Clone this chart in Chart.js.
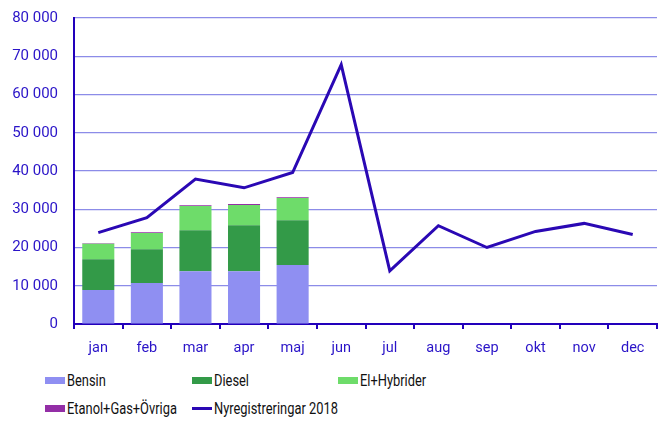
<!DOCTYPE html>
<html>
<head>
<meta charset="utf-8">
<script src="https://cdn.jsdelivr.net/npm/chart.js@4.4.0/dist/chart.umd.min.js"></script>
<style>
  body { margin: 0; background: #fff; font-family: Roboto, sans-serif; }
  #wrap { position: relative; width: 672px; height: 429px; overflow: hidden; }
  #fuelChart { position: absolute; left: 0; top: -7px; }
  .item { position: absolute; display: flex; align-items: center; height: 22px; margin-top: -11px; font-size: 16.5px; color: #111; }
  .box { width: 20px; height: 7px; margin-right: 2px; }
  .txt { display: inline-block; transform: scaleX(0.78); transform-origin: left center; white-space: nowrap; }
</style>
</head>
<body>
<div id="wrap">
  <canvas id="fuelChart" width="672" height="367"></canvas>
  <div id="legend"></div>
</div>
<script>
const months = ['jan', 'feb', 'mar', 'apr', 'maj', 'jun', 'jul', 'aug', 'sep', 'okt', 'nov', 'dec'];

// 2019, per bränsle
const bensin = [8900, 10700, 13800, 13800, 15400];
const diesel = [8050, 8850, 10700, 12000, 11700];
const elHybrid = [4000, 4250, 6350, 5300, 5850];
const etanolGas = [150, 200, 200, 250, 200];

const nyreg2018 = [23900, 27800, 37900, 35600, 39600, 67800, 13900, 25700, 20000, 24200, 26300, 23400];

const textBlue = '#2a14c8';
const axisBlue = '#2200bb';
const gridBlue = '#8c8ce8';

function fmt(v) {
    return String(v).replace(/\B(?=(\d{3})+(?!\d))/g, ' ');
}

const ctx = document.getElementById('fuelChart');

const chart = new Chart(ctx, {
    type: 'bar',
    data: {
        labels: months,
        datasets: [
            {
                type: 'line',
                label: 'Nyregistreringar 2018',
                data: nyreg2018,
                borderColor: '#2a08b4',
                backgroundColor: '#2a08b4',
                borderWidth: 3,
                pointRadius: 0,
                tension: 0,
                fill: false,
                stack: 'total',
                order: 0
            },
            { label: 'Bensin', data: bensin, backgroundColor: '#8f8ff2', stack: 'fuel', order: 1 },
            { label: 'Diesel', data: diesel, backgroundColor: '#339a48', stack: 'fuel', order: 1 },
            { label: 'El+Hybrider', data: elHybrid, backgroundColor: '#6edc6a', stack: 'fuel', order: 1 },
            { label: 'Etanol+Gas+Övriga', data: etanolGas, backgroundColor: '#932ea6', stack: 'fuel', order: 1 }
        ]
    },
    options: {
        responsive: false,
        animation: false,
        barPercentage: 0.66,
        categoryPercentage: 1,
        layout: { padding: { left: 0, right: 15, top: 10, bottom: 0 } },
        plugins: {
            legend: { display: false },
            tooltip: { enabled: false }
        },
        scales: {
            x: {
                stacked: true,
                grid: {
                    drawOnChartArea: false,
                    drawTicks: true,
                    tickLength: 5,
                    color: axisBlue,
                    lineWidth: 2
                },
                border: { color: axisBlue, width: 2 },
                ticks: {
                    color: textBlue,
                    padding: 11,
                    font: { family: 'Roboto', size: 14.5 }
                },
                afterFit: s => { s.height = 36; }
            },
            y: {
                stacked: true,
                min: 0,
                max: 80000,
                grid: { color: gridBlue, lineWidth: 1.2, drawTicks: false },
                border: { color: axisBlue, width: 2 },
                ticks: {
                    stepSize: 10000,
                    color: textBlue,
                    padding: 16,
                    font: { family: 'Roboto', size: 15 },
                    callback: v => fmt(v)
                },
                afterFit: s => { s.width = 74; }
            }
        }
    }
});

// legend in three columns like the original
const legendSlots = [
    { label: 'Bensin', x: 45, y: 380 },
    { label: 'Diesel', x: 192, y: 380 },
    { label: 'El+Hybrider', x: 338, y: 380 },
    { label: 'Etanol+Gas+Övriga', x: 45, y: 408 },
    { label: 'Nyregistreringar 2018', x: 192, y: 408 }
];
const legend = document.getElementById('legend');
legendSlots.forEach(slot => {
    const ds = chart.data.datasets.find(d => d.label === slot.label);
    const item = document.createElement('div');
    item.className = 'item';
    item.style.left = slot.x + 'px';
    item.style.top = slot.y + 'px';
    const box = document.createElement('span');
    box.className = 'box';
    if (ds.type === 'line') {
        box.style.height = '3px';
        box.style.background = ds.borderColor;
    } else {
        box.style.background = ds.backgroundColor;
    }
    const txt = document.createElement('span');
    txt.className = 'txt';
    txt.textContent = ds.label;
    item.appendChild(box);
    item.appendChild(txt);
    legend.appendChild(item);
});
</script>
</body>
</html>
